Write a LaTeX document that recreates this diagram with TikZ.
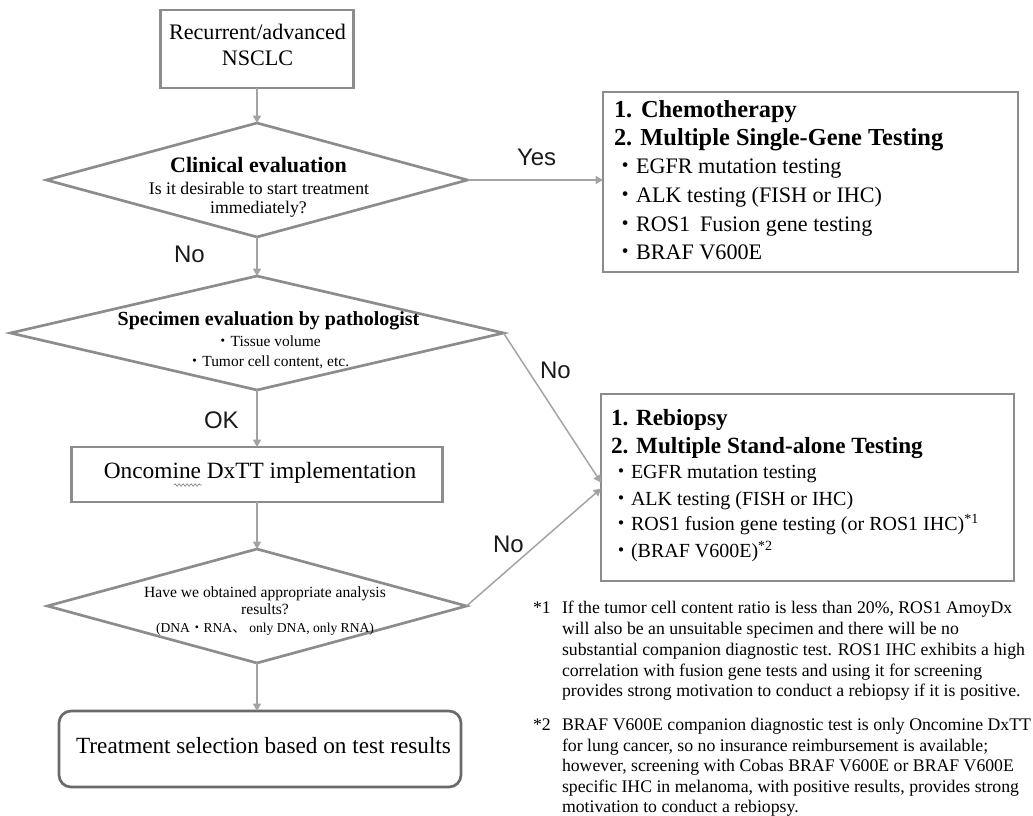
\documentclass[tikz,border=0pt]{standalone}
\usepackage{fontspec}
\setmainfont{Liberation Serif}
\newfontfamily\sansf{Liberation Sans}
\newfontfamily\cjk{Noto Sans CJK JP}
\usetikzlibrary{shapes.geometric,arrows.meta,decorations.pathmorphing,calc}
\definecolor{boxgray}{HTML}{8C8C8C}
\definecolor{arrowgray}{HTML}{A3A3A3}
\definecolor{dkgray}{HTML}{6A6A6A}
\definecolor{labcol}{HTML}{1A1A1A}
\definecolor{squig}{HTML}{8E8EA0}
\newcommand{\fs}[1]{\fontsize{#1}{#1}\selectfont}
\begin{document}
\begin{tikzpicture}[x=0.75pt,y=-0.75pt,
  box/.style={draw=boxgray,line width=2pt,inner sep=0pt,outer sep=0pt},
  dia/.style={diamond,draw=boxgray,line width=2pt,inner sep=0pt,outer sep=0pt},
  conn/.style={draw=arrowgray,line width=1.1pt,-{Triangle[width=6pt,length=5.5pt]}},
  ln/.style={anchor=base,inner sep=0pt,outer sep=0pt},
  lnw/.style={anchor=base west,inner sep=0pt,outer sep=0pt},
  lab/.style={anchor=base west,inner sep=0pt,outer sep=0pt,text=labcol,font=\sansf\fs{18}}
]
\useasboundingbox (0,0) rectangle (1033,815);
\fill[white] (0,0) rectangle (1033,815);

% ---- main column shapes
\node[box,minimum width=144.75pt,minimum height=58.5pt] (top) at (257,49) {};
\node[dia,minimum width=315.75pt,minimum height=85.5pt] (d1) at (257,180) {};
\node[dia,minimum width=369.75pt,minimum height=85.5pt] (d2) at (257,333) {};
\node[box,minimum width=278.25pt,minimum height=41.25pt] (onc) at (257,474.5) {};
\node[dia,minimum width=314.25pt,minimum height=85.5pt] (d3) at (257,606) {};
\node[draw=dkgray,line width=2pt,rounded corners=9pt,inner sep=0pt,outer sep=0pt,
      minimum width=301.5pt,minimum height=57pt] (treat) at (260,749) {};

% ---- right boxes
\node[box,minimum width=311.25pt,minimum height=135pt] (r1) at (810.5,182) {};
\node[box,minimum width=309.75pt,minimum height=140.25pt] (r2) at (807.5,487.5) {};

% ---- texts in main column
\node[ln,font=\fs{16.6}] (t1a) at (257.5,39.5) {Recurrent/advanced};
\node[ln,font=\fs{16.6}] (t1b) at (257.5,65) {NSCLC};

\node[ln,font=\bfseries\fs{16.5}] (d1a) at (258.5,172) {Clinical evaluation};
\node[ln,font=\fs{13.3}] (d1b) at (259,194) {Is it desirable to start treatment};
\node[ln,font=\fs{13.3}] (d1c) at (258.5,213) {immediately?};

\node[ln,font=\bfseries\fs{15}] (d2a) at (268.5,325) {Specimen evaluation by pathologist};
\node[ln,font=\fs{11.6}] (d2b) at (268,346) {{\cjk ・}Tissue volume};
\node[ln,font=\fs{11.6}] (d2c) at (268,366) {{\cjk ・}Tumor cell content, etc.};

\node[ln,font=\fs{17.5}] (onct) at (260,478) {Oncomine DxTT implementation};

\node[ln,font=\fs{11.7}] (d3a) at (265,597) {Have we obtained appropriate analysis};
\node[ln,font=\fs{11.7}] (d3b) at (265,614) {results?};
\node[ln,font=\fs{10.2}] (d3c) at (265,632) {(DNA{\cjk ・}RNA{\cjk 、} only DNA, only RNA)};

\node[ln,font=\fs{17.4}] (treatt) at (263.5,753) {Treatment selection based on test results};

% ---- spellcheck squiggle under "mine"
\draw[squig,line width=0.6pt,decorate,decoration={snake,amplitude=0.9pt,segment length=3pt}]
  ($(onct.base west)+(70,7)$) -- ($(onct.base west)+(98,7)$);

% ---- right box 1 text
\node[lnw,font=\bfseries\fs{18.3}] (r1a) at (614,117) {1.\kern2pt\ Chemotherapy};
\node[lnw,font=\bfseries\fs{18.3}] (r1b) at (614,145) {2. Multiple Single-Gene Testing};
\node[lnw,font=\fs{16.6}] (r1c) at (614,173) {{\cjk ・}EGFR mutation testing};
\node[lnw,font=\fs{16.6}] (r1d) at (614,202) {{\cjk ・}ALK testing (FISH or IHC)};
\node[lnw,font=\fs{16.6}] (r1e) at (614,231) {{\cjk ・}ROS1\hspace{0.45em}Fusion gene testing};
\node[lnw,font=\fs{16.6}] (r1f) at (614,259) {{\cjk ・}BRAF V600E};

% ---- right box 2 text
\node[lnw,font=\bfseries\fs{17.4}] (r2a) at (611,425) {1. Rebiopsy};
\node[lnw,font=\bfseries\fs{17.4}] (r2b) at (611,453) {2. Multiple Stand-alone Testing};
\node[lnw,font=\fs{15}] (r2c) at (611,478) {{\cjk ・}EGFR mutation testing};
\node[lnw,font=\fs{15}] (r2d) at (611,505) {{\cjk ・}ALK testing (FISH or IHC)};
\node[lnw,font=\fs{15}] (r2e) at (611,530) {{\cjk ・}ROS1 fusion gene testing (or ROS1 IHC)\textsuperscript{*1}};
\node[lnw,font=\fs{15}] (r2f) at (611,557) {{\cjk ・}(BRAF V600E)\textsuperscript{*2}};

% ---- footnotes
\node[lnw,font=\fs{13.3}] (f1m) at (533,613) {*1};
\node[lnw,font=\fs{13.3}] (f1a) at (562,613) {If the tumor cell content ratio is less than 20\%, ROS1 AmoyDx};
\node[lnw,font=\fs{13.3}] (f1b) at (562,634) {will also be an unsuitable specimen and there will be no};
\node[lnw,font=\fs{13.3}] (f1c) at (562,655) {substantial companion diagnostic test. ROS1 IHC exhibits a high};
\node[lnw,font=\fs{13.3}] (f1d) at (562,676) {correlation with fusion gene tests and using it for screening};
\node[lnw,font=\fs{13.3}] (f1e) at (562,696) {provides strong motivation to conduct a rebiopsy if it is positive.};

\node[lnw,font=\fs{13.3}] (f2m) at (533,730) {*2};
\node[lnw,font=\fs{13.3}] (f2a) at (562,730) {BRAF V600E companion diagnostic test is only Oncomine DxTT};
\node[lnw,font=\fs{13.3}] (f2b) at (562,751) {for lung cancer, so no insurance reimbursement is available;};
\node[lnw,font=\fs{13.3}] (f2c) at (562,771) {however, screening with Cobas BRAF V600E or BRAF V600E};
\node[lnw,font=\fs{13.3}] (f2d) at (562,792) {specific IHC in melanoma, with positive results, provides strong};
\node[lnw,font=\fs{13.3}] (f2e) at (562,812) {motivation to conduct a rebiopsy.};

% ---- connectors
\coordinate (r2in1) at ($(r2.west)+(0,-5)$);
\coordinate (r2in2) at ($(r2.west)+(0,1)$);
\draw[conn] (top.south) -- (d1.north);
\draw[conn] (d1.south) -- (d2.north);
\draw[conn] (d1.east) -- (d1.east -| r1.west);
\draw[conn] (d2.south) -- (onc.north);
\draw[conn] (onc.south) -- (d3.north);
\draw[conn] (d3.south) -- (d3.south |- treat.north);
\draw[conn] (d2.east) -- (r2in1);
\draw[conn] (d3.east) -- (r2in2);

% ---- connector labels
\node[lab] (lyes) at (517,165) {Yes};
\node[lab] (lno1) at (174,262) {No};
\node[lab] (lok) at (204,428) {OK};
\node[lab] (lno2) at (540,378) {No};
\node[lab] (lno3) at (493,552) {No};
\end{tikzpicture}
\end{document}
